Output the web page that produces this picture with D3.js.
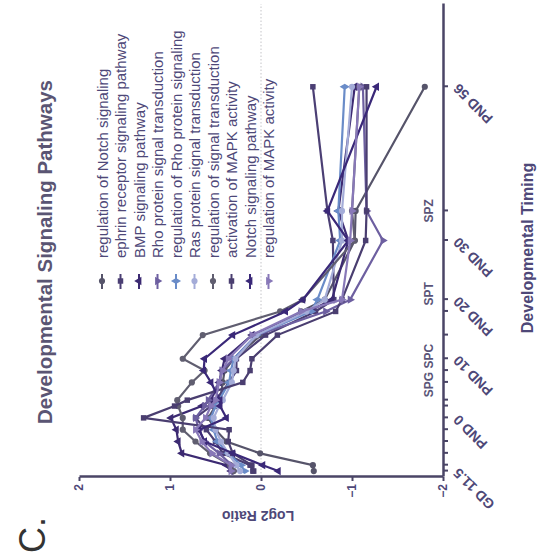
<!DOCTYPE html>
<html>
<head>
<meta charset="utf-8">
<script src="https://cdn.jsdelivr.net/npm/d3@7"></script>
<style>
  body { margin: 0; background: #fff; }
  svg { display: block; font-family: "Liberation Sans", Arial, sans-serif; }
</style>
</head>
<body>
<svg id="chart"></svg>
<script>
// Time points (days relative to birth) and their labels
var timeDays = [-9, -8, -6, -4, -2, 0, 2, 3, 6, 8, 10, 14, 18, 20, 30, 35, 56];
var timeLabels = ["GD 11.5", "GD 12.5", "GD 14.5", "GD 16.5", "GD 18.5", "PND 0", "PND 2", "PND 3",
  "PND 6", "PND 8", "PND 10", "PND 14", "PND 18", "PND 20", "PND 30", "PND 35", "PND 56"];
var shownLabels = ["GD 11.5", "PND 0", "PND 10", "PND 20", "PND 30", "PND 56"];
var yTicks = [-2, -1, 0, 1, 2];

// germ cell stage markers
var stageLabels = ["SPG SPC", "SPT", "SPZ"];
var stageDays = [8, 21, 35];

// Log2 ratio per pathway
var regNotch = [-0.58, -0.57, 0.01, 0.38, 0.5, 0.58, 0.5, 0.45, 0.42, 0.4, 0.3, 0.0, -0.44, -0.7, -1.03, -1.04, -1.80];
var ephrin = [0.09, 0.12, 0.42, 0.5, 0.6, 0.72, 0.55, 0.5, 0.35, 0.27, 0.27, -0.05, -0.6, -0.8, -0.79, -0.73, -0.57];
var bmp = [0.33, 0.38, 0.87, 0.91, 0.93, 0.99, 0.65, 0.55, 0.46, 0.43, 0.4, 0.1, -0.52, -0.78, -0.96, -0.85, -1.03];
var rhoTrans = [0.3, 0.32, 0.46, 0.62, 0.68, 0.72, 0.62, 0.58, 0.46, 0.43, 0.3, 0.05, -0.71, -0.98, -1.34, -1.16, -1.12];
var regRho = [0.18, 0.22, 0.36, 0.48, 0.52, 0.55, 0.5, 0.46, 0.35, 0.33, 0.3, 0.05, -0.55, -0.62, -0.87, -0.85, -0.92];
var rasTrans = [0.23, 0.27, 0.36, 0.44, 0.5, 0.52, 0.46, 0.42, 0.32, 0.3, 0.28, 0.05, -0.5, -0.7, -0.89, -0.89, -1.0];
var regSignal = [0.3, 0.34, 0.56, 0.72, 0.86, 0.86, 0.91, 0.92, 0.76, 0.62, 0.86, 0.64, -0.21, -0.46, -1.03, -1.0, -1.08];
var actMapk = [0.08, 0.1, 0.31, 0.36, 0.35, 1.29, 0.95, 0.81, 0.2, 0.12, 0.1, -0.18, -0.82, -0.89, -1.15, -1.16, -1.16];
var notchPath = [-0.19, -0.02, 0.31, 0.62, 0.68, 0.38, 0.45, 0.45, 0.55, 0.63, 0.62, 0.31, -0.27, -0.46, -0.96, -0.73, -1.27];
var regMapk = [0.33, 0.33, 0.54, 0.65, 0.72, 0.61, 0.55, 0.5, 0.46, 0.42, 0.36, 0.1, -0.44, -0.89, -0.98, -1.0, -1.08];

var seriesNames = ["regulation of Notch signaling", "ephrin receptor signaling pathway", "BMP signaling pathway",
  "Rho protein signal transduction", "regulation of Rho protein signaling", "Ras protein signal transduction",
  "regulation of signal transduction", "activation of MAPK activity", "Notch signaling pathway",
  "regulation of MAPK activity"];
var seriesValues = [regNotch, ephrin, bmp, rhoTrans, regRho, rasTrans, regSignal, actMapk, notchPath, regMapk];
var seriesColors = ["#56546a", "#4b3f74", "#3c2a72", "#6d5fa0", "#6a8cc8", "#a4acd8", "#605e70", "#4a3e70", "#3a2878", "#8878b8"];
var seriesSymbols = [d3.symbolCircle, d3.symbolSquare, d3.symbolTriangle, d3.symbolTriangle, d3.symbolDiamond,
  d3.symbolCircle, d3.symbolCircle, d3.symbolSquare, d3.symbolTriangle, d3.symbolTriangle];
var symbolFlip = [0, 0, 0, 1, 0, 0, 0, 0, 0, 1];

var W = 537, H = 558;
var axisColor = "#4a4566";
var textColor = "#4e4878";

var svg = d3.select("#chart")
  .attr("width", W)
  .attr("height", H);

svg.append("rect").attr("width", W).attr("height", H).attr("fill", "#fff");

// the whole figure is turned a quarter turn counter-clockwise
var g = svg.append("g")
  .attr("transform", "translate(0," + H + ") rotate(-90)");

var xScale = d3.scaleLinear().domain([-10, 70]).range([81, 554]);
var yScale = d3.scaleLinear().domain([-2, 2]).range([443, 79]);

// zero reference line
g.append("line")
  .attr("x1", 81).attr("x2", 554)
  .attr("y1", yScale(0)).attr("y2", yScale(0))
  .attr("stroke", "#c4c4c8")
  .attr("stroke-width", 1)
  .attr("stroke-dasharray", "1.5,2");

// x axis
var xAxis = d3.axisBottom(xScale)
  .tickValues(timeDays)
  .tickSize(5)
  .tickSizeOuter(0)
  .tickFormat(function(d, i) {
    var lab = timeLabels[i];
    return shownLabels.indexOf(lab) >= 0 ? lab : "";
  });

var xg = g.append("g")
  .attr("transform", "translate(0,443)")
  .call(xAxis);

xg.selectAll("text")
  .attr("x", -9)
  .attr("y", 9)
  .attr("dy", "0.35em")
  .attr("transform", "rotate(-45)")
  .style("text-anchor", "end")
  .attr("fill", textColor)
  .attr("font-size", 14)
  .attr("font-weight", "bold");

// y axis
var yAxis = d3.axisLeft(yScale)
  .tickValues(yTicks)
  .tickSize(4)
  .tickSizeOuter(0)
  .tickFormat(d3.format("d"));

var yg = g.append("g")
  .attr("transform", "translate(81,0)")
  .call(yAxis);

yg.selectAll("text")
  .attr("fill", textColor)
  .attr("font-size", 12)
  .attr("font-weight", "bold");

[xg, yg].forEach(function(a) {
  a.select(".domain").attr("stroke", axisColor).attr("stroke-width", 2.5);
  a.selectAll(".tick line").attr("stroke", axisColor).attr("stroke-width", 2);
});

// stage labels
g.selectAll(".stage")
  .data(stageLabels)
  .enter()
  .append("text")
  .attr("class", "stage")
  .attr("x", function(d, i) { return xScale(stageDays[i]); })
  .attr("y", 433)
  .attr("text-anchor", "middle")
  .attr("font-size", 12)
  .attr("font-weight", "bold")
  .attr("fill", "#5a5578")
  .text(function(d) { return d; });

// lines
var line = d3.line()
  .x(function(d, i) { return xScale(timeDays[i]); })
  .y(function(d) { return yScale(d); });

function symbolPath(k) {
  return d3.symbol().type(seriesSymbols[k]).size(30)();
}

seriesValues.forEach(function(vals, k) {
  g.append("path")
    .datum(vals)
    .attr("d", line)
    .attr("fill", "none")
    .attr("stroke", seriesColors[k])
    .attr("stroke-width", 2.2);

  g.selectAll(".m" + k)
    .data(vals)
    .enter()
    .append("path")
    .attr("class", "m" + k)
    .attr("d", symbolPath(k))
    .attr("fill", seriesColors[k])
    .attr("transform", function(d, i) {
      return "translate(" + xScale(timeDays[i]) + "," + yScale(d) + ")" + (symbolFlip[k] ? " rotate(180)" : "");
    });
});

// legend
var legend = g.selectAll(".legend")
  .data(seriesNames)
  .enter()
  .append("g")
  .attr("class", "legend")
  .attr("transform", function(d, i) { return "translate(0," + (102 + i * 18.5) + ")"; });

legend.append("line")
  .attr("x1", 269).attr("x2", 284)
  .attr("stroke", function(d, i) { return seriesColors[i]; })
  .attr("stroke-width", 2);

legend.append("path")
  .attr("d", function(d, i) { return symbolPath(i); })
  .attr("fill", function(d, i) { return seriesColors[i]; })
  .attr("transform", function(d, i) { return "translate(277,0)" + (symbolFlip[i] ? " rotate(180)" : ""); });

legend.append("text")
  .attr("x", 300)
  .attr("y", 5.5)
  .attr("font-size", 15)
  .attr("fill", textColor)
  .text(function(d) { return d; });

// titles
g.append("text")
  .attr("x", 306).attr("y", 52)
  .attr("text-anchor", "middle")
  .attr("font-size", 20.5)
  .attr("font-weight", "bold")
  .attr("fill", "#5a5573")
  .text("Developmental Signaling Pathways");

g.append("text")
  .attr("transform", "translate(47,258) rotate(-90)")
  .attr("text-anchor", "middle")
  .attr("font-size", 14)
  .attr("font-weight", "bold")
  .attr("fill", textColor)
  .text("Log2 Ratio");

g.append("text")
  .attr("x", 310).attr("y", 533)
  .attr("text-anchor", "middle")
  .attr("font-size", 16)
  .attr("font-weight", "bold")
  .attr("fill", textColor)
  .text("Developmental Timing");

g.append("text")
  .attr("x", 5).attr("y", 45)
  .attr("font-size", 36)
  .attr("fill", "#333")
  .text("C.");
</script>
</body>
</html>
